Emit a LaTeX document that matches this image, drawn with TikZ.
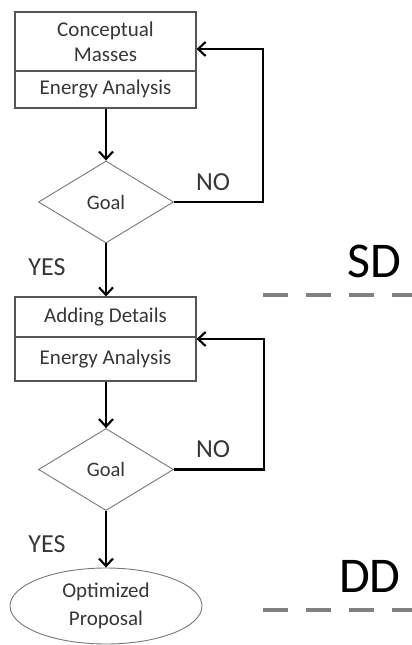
\documentclass[tikz,border=0pt]{standalone}
\usepackage{fontspec}
\setmainfont{Carlito}
\usetikzlibrary{shapes.geometric,arrows.meta}
\definecolor{boxline}{HTML}{555555}
\definecolor{txt}{HTML}{363636}
\definecolor{dashgray}{HTML}{808080}
\tikzset{
  x=1pt, y=-1pt,
  cell/.style={draw=boxline, line width=1.1pt, minimum width=181pt, inner sep=0pt,
    align=center, text=txt, font=\fontsize{21}{25}\selectfont},
  decision/.style={diamond, draw=boxline!80, line width=0.9pt, minimum width=135pt,
    minimum height=82pt, inner sep=0pt, text=txt, font=\fontsize{20.5}{23}\selectfont},
  terminal/.style={ellipse, draw=boxline!80, line width=0.9pt, minimum width=192pt,
    minimum height=76pt, inner sep=0pt, align=center, text=txt, font=\fontsize{21}{28}\selectfont},
  flow/.style={line width=2.1pt, -{Straight Barb[length=7.5pt,width=14pt,line width=2.1pt]}},
  answer/.style={text=txt, font=\fontsize{26}{30}\selectfont, inner sep=0pt},
  phase/.style={text=black, font=\fontsize{50}{54}\selectfont, inner sep=0pt},
  phaseline/.style={draw=dashgray, line width=4pt, dash pattern=on 25pt off 18pt},
}
\begin{document}
\begin{tikzpicture}
\useasboundingbox (0,0) rectangle (412,645);

% first design loop
\node[cell, minimum height=59pt] (c1a) at (105.5,41.5) {Conceptual\\Masses};
\node[cell, minimum height=37pt] (c1b) at (105.5,89.5) {Energy Analysis};
\node[decision] (g1) at (106,202) {Goal};
\coordinate (r1) at (263,49);

% second design loop
\node[cell, minimum height=40pt] (c2a) at (105.5,317) {Adding Details};
\node[cell, minimum height=44pt] (c2b) at (105.5,359) {Energy Analysis};
\node[decision] (g2) at (106,469.5) {Goal};
\coordinate (r2) at (264,339);

% final result
\node[terminal] (res) at (106,606) {Optimized\\Proposal};

% connectors
\draw[flow] (c1b.south -| g1.north) -- (g1.north);
\draw[flow] (g1.east) -| (r1) -- (r1 -| c1a.east);
\draw[flow] (g1.south) -- (c2a.north -| g1.south);
\draw[flow] (c2b.south -| g2.north) -- (g2.north);
\draw[flow] (g2.east) -| (r2) -- (r2 -| c2b.east);
\draw[flow] (g2.south) -- (res.north);

% answer labels
\node[answer] (no1) at (213,182) {NO};
\node[answer] (yes1) at (47,267) {YES};
\node[answer] (no2) at (213,449) {NO};
\node[answer] (yes2) at (47,544) {YES};

% phase markers
\node[phase] (sd) at (374,261) {SD};
\node[phase] (dd) at (370,576) {DD};
\coordinate (sdl) at (263,295);
\coordinate (sdr) at (412,295);
\coordinate (ddl) at (263,610);
\coordinate (ddr) at (412,610);
\draw[phaseline] (sdl) -- (sdr);
\draw[phaseline] (ddl) -- (ddr);
\end{tikzpicture}
\end{document}
